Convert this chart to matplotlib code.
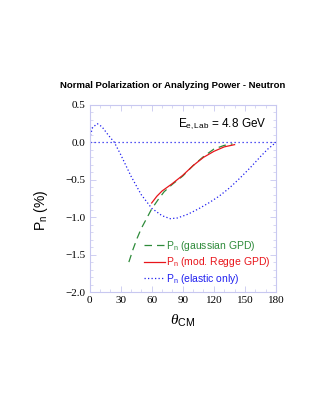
import matplotlib.pyplot as plt
from matplotlib.ticker import MultipleLocator, FixedLocator, FixedFormatter

# values (theta_CM in degrees, P_n in %)
theta_elastic = [0, 3, 7.5, 12, 18, 24, 30, 40, 50, 60, 70, 78, 85, 95, 105,
                 115, 125, 135, 145, 155, 165, 172, 180]
pn_elastic = [0.05, 0.20, 0.25, 0.21, 0.10, 0.0, -0.16, -0.45, -0.70, -0.88,
              -0.98, -1.02, -1.01, -0.96, -0.89, -0.81, -0.72, -0.61, -0.48,
              -0.34, -0.19, -0.09, 0.0]

theta_gauss = [38, 42, 46, 50, 55, 60, 66, 72, 80, 90, 100, 110, 120, 130, 138]
pn_gauss = [-1.60, -1.43, -1.28, -1.15, -1.02, -0.89, -0.77, -0.66, -0.56,
            -0.45, -0.31, -0.19, -0.09, -0.04, -0.02]

theta_regge = [60, 65, 70, 80, 90, 100, 110, 120, 130, 140]
pn_regge = [-0.81, -0.72, -0.65, -0.55, -0.44, -0.31, -0.20, -0.12, -0.06, -0.03]

xticks = [0, 30, 60, 90, 120, 150, 180]
xticklabels = ['0', '30', '60', '90', '120', '150', '180']
yticks = [0.5, 0.0, -0.5, -1.0, -1.5, -2.0]
yticklabels = ['0.5', '0.0', '\u22120.5', '\u22121.0', '\u22121.5', '\u22122.0']

labels = ['P$_\\mathregular{n}$ (gaussian GPD)', 'P$_\\mathregular{n}$ (mod. Regge GPD)',
          'P$_\\mathregular{n}$ (elastic only)']
colors = ['#2e8b3a', '#e8151b', '#2020f0']

plt.rcParams['font.family'] = ['Liberation Sans', 'DejaVu Sans']
plt.rcParams['font.serif'] = ['Liberation Serif', 'DejaVu Serif']
plt.rcParams['mathtext.fontset'] = 'custom'
plt.rcParams['mathtext.rm'] = 'Liberation Sans'
plt.rcParams['mathtext.it'] = 'Liberation Serif:italic'

fig = plt.figure(figsize=(3.16, 4.09), dpi=100)
ax = fig.add_axes([89.5 / 316, 1 - 292 / 409, 186.5 / 316, 187 / 409])

frame = '#c8c8f0'
ax.axhline(0, color=colors[2], lw=0.9, ls=(0, (1, 2.2)))
l1, = ax.plot(theta_gauss, pn_gauss, color=colors[0], lw=0.9, ls=(0, (6, 4)))
l2, = ax.plot(theta_regge, pn_regge, color=colors[1], lw=0.9)
l3, = ax.plot(theta_elastic, pn_elastic, color=colors[2], lw=0.9, ls=(0, (1, 1.8)))

ax.set_xlim(0, 180)
ax.set_ylim(-2.0, 0.5)
ax.xaxis.set_major_locator(FixedLocator(xticks))
ax.xaxis.set_major_formatter(FixedFormatter(xticklabels))
ax.xaxis.set_minor_locator(MultipleLocator(10))
ax.yaxis.set_major_locator(FixedLocator(yticks))
ax.yaxis.set_major_formatter(FixedFormatter(yticklabels))
ax.yaxis.set_minor_locator(MultipleLocator(0.1))
ax.tick_params(which='both', direction='in', top=True, right=True, color=frame, pad=3,
               labelsize=8, labelfontfamily='Liberation Serif')
ax.tick_params(which='major', length=4, width=0.6)
ax.tick_params(which='minor', length=2, width=0.5)
for s in ax.spines.values():
    s.set_color(frame)
    s.set_linewidth(0.8)

ax.set_xlabel('$\\theta_{\\mathregular{CM}}$', fontsize=11)
ax.xaxis.set_label_coords(0.5, -0.11)
ax.set_ylabel('P$_\\mathregular{n}$ (%)', fontsize=10)
ax.yaxis.set_label_coords(-0.21, 0.44)

ax.text(0.95, 0.895, 'E$_{\\mathregular{e,Lab}}$ = 4.8 GeV', transform=ax.transAxes,
        ha='right', va='center', fontsize=8.5)

fig.text(173 / 316, 1 - 86 / 409, 'Normal Polarization or Analyzing Power - Neutron',
         ha='center', va='center', fontsize=6.8, fontweight='bold')

leg = ax.legend([l1, l2, l3], labels, loc='lower left', bbox_to_anchor=(0.26, 0.0),
                frameon=False, fontsize=7.5, handlelength=2.0, handletextpad=0.1,
                labelspacing=0.25, borderaxespad=0.2)
for txt, c in zip(leg.get_texts(), colors):
    txt.set_color(c)

fig.savefig('out.png', dpi=100)
